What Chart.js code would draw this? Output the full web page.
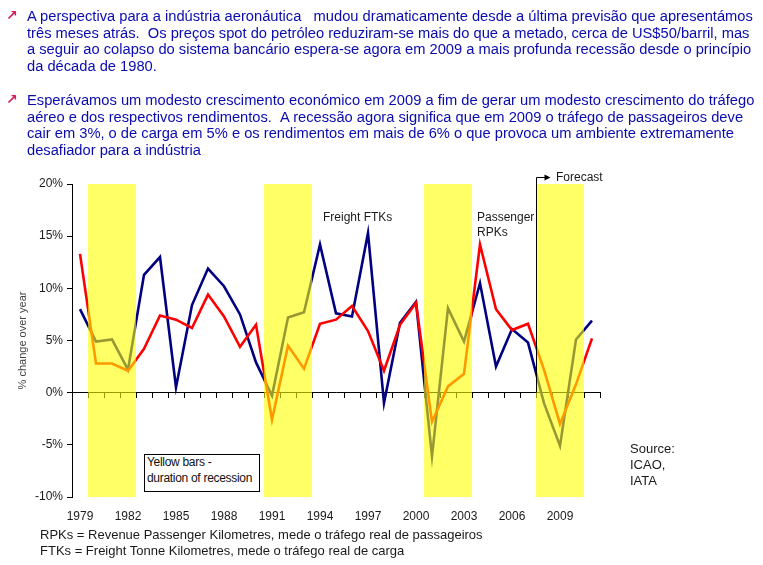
<!DOCTYPE html>
<html>
<head>
<meta charset="utf-8">
<script src="https://cdn.jsdelivr.net/npm/chart.js@4"></script>
<style>
  html, body { margin: 0; padding: 0; background: #fff; }
  #wrap { position: relative; width: 763px; height: 565px; overflow: hidden; font-family: "Liberation Sans", Arial, sans-serif; }
  #c { position: absolute; left: 0; top: 0; }
  .t { position: absolute; white-space: nowrap; color: #1a1a1a; font-size: 12px; line-height: 12px; }
  .para { position: absolute; left: 27px; color: #0a0ab0; font-size: 14.7px; line-height: 16.5px; white-space: nowrap; }
  .bul { position: absolute; left: 6px; color: #d8185e; font-size: 14px; line-height: 14px; font-family: "DejaVu Sans", sans-serif; font-weight: bold; }
  #box { position: absolute; left: 144px; top: 454px; width: 116px; height: 38px; border: 1px solid #000; background: #fff; font-size: 12px; letter-spacing: -0.3px; line-height: 15.5px; color: #111; padding: 0 0 0 2px; box-sizing: border-box; white-space: nowrap; }
</style>
</head>
<body>
<div id="wrap">
  <canvas id="c" width="763" height="565"></canvas>

  <div class="bul" style="top:8px;">↗</div>
  <div class="para" style="top:8px;">A perspectiva para a indústria aeronáutica &nbsp; mudou dramaticamente desde a última previsão que apresentámos<br>três meses atrás. &nbsp;Os preços spot do petróleo reduziram-se mais do que a metado, cerca de US$50/barril, mas<br>a seguir ao colapso do sistema bancário espera-se agora em 2009 a mais profunda recessão desde o princípio<br>da década de 1980.</div>

  <div class="bul" style="top:92px;">↗</div>
  <div class="para" style="top:92px;">Esperávamos um modesto crescimento económico em 2009 a fim de gerar um modesto crescimento do tráfego<br>aéreo e dos respectivos rendimentos. &nbsp;A recessão agora significa que em 2009 o tráfego de passageiros deve<br>cair em 3%, o de carga em 5% e os rendimentos em mais de 6% o que provoca um ambiente extremamente<br>desafiador para a indústria</div>

  <div class="t" style="left:323px; top:211px;">Freight FTKs</div>
  <div class="t" style="left:477px; top:210px; line-height:15px;">Passenger<br>RPKs</div>
  <div class="t" style="left:556px; top:171px;">Forecast</div>

  <div id="box">Yellow bars -<br>duration of recession</div>

  <div class="t" style="left:630px; top:441px; font-size:13px; line-height:16px;">Source:<br>ICAO,<br>IATA</div>

  <div class="t" style="left:40px; top:527px; font-size:13px; line-height:15.5px;">RPKs = Revenue Passenger Kilometres, mede o tráfego real de passageiros<br>FTKs = Freight Tonne Kilometres, mede o tráfego real de carga</div>
</div>

<script>
// ---- data ----
const years = ['1979','1980','1981','1982','1983','1984','1985','1986','1987','1988','1989',
               '1990','1991','1992','1993','1994','1995','1996','1997','1998','1999',
               '2000','2001','2002','2003','2004','2005','2006','2007','2008','2009','2010','2011'];
const passengerRPKs = [13.3, 2.8, 2.8, 2.1, 4.2, 7.4, 7.0, 6.2, 9.4, 7.3, 4.4,
                       6.5, -2.6, 4.5, 2.3, 6.6, 7.0, 8.3, 5.9, 2.1, 6.5,
                       8.6, -2.8, 0.6, 1.8, 14.2, 8.0, 6.0, 6.6, 2.2, -3.0, 0.8, 5.2];
const freightFTKs = [8.0, 4.9, 5.1, 2.2, 11.3, 13.0, 0.5, 8.4, 11.9, 10.2, 7.5,
                     2.9, -0.3, 7.2, 7.7, 14.2, 7.6, 7.3, 15.3, -1.0, 6.7,
                     8.7, -6.1, 8.1, 4.9, 10.5, 2.5, 6.1, 4.8, -1.0, -5.1, 5.1, 6.9];
const recessionYears = ['1980','1981','1982','1991','1992','1993','2001','2002','2003','2008','2009','2010'];
const firstForecastYear = '2008';
const yTicks = [-10, -5, 0, 5, 10, 15, 20];
const yMin = -10, yMax = 20;
const xLabelEvery = 3;

const recessionBars = years.map(y => recessionYears.includes(y) ? [yMin, yMax] : null);

const forecastPlugin = {
  id: 'forecast',
  afterDatasetsDraw(chart) {
    const xs = chart.scales.x, ys = chart.scales.y;
    const i = years.indexOf(firstForecastYear);
    const x = Math.round((xs.getPixelForValue(i - 1) + xs.getPixelForValue(i)) / 2) + 0.5;
    const yBottom = ys.getPixelForValue(0);
    const yTop = chart.chartArea.top - 7;
    const ctx = chart.ctx;
    ctx.save();
    ctx.strokeStyle = '#000';
    ctx.lineWidth = 1;
    ctx.beginPath();
    ctx.moveTo(x, yBottom);
    ctx.lineTo(x, yTop + 0.5);
    ctx.lineTo(x + 10, yTop + 0.5);
    ctx.stroke();
    ctx.fillStyle = '#000';
    ctx.beginPath();
    ctx.moveTo(x + 14, yTop + 0.5);
    ctx.lineTo(x + 8, yTop - 2.5);
    ctx.lineTo(x + 8, yTop + 3.5);
    ctx.closePath();
    ctx.fill();
    ctx.restore();
  }
};

new Chart(document.getElementById('c'), {
  type: 'line',
  data: {
    labels: years,
    datasets: [
      {
        type: 'bar',
        label: 'Recession',
        data: recessionBars,
        xAxisID: 'x',
        backgroundColor: 'rgba(255,255,0,0.6)',
        borderWidth: 0,
        inflateAmount: 0,
        barPercentage: 1,
        categoryPercentage: 1,
        order: 0
      },
      {
        label: 'Freight FTKs',
        data: freightFTKs,
        xAxisID: 'x',
        borderColor: '#000080',
        borderWidth: 2.6,
        pointRadius: 0,
        tension: 0,
        fill: false,
        order: 2
      },
      {
        label: 'Passenger RPKs',
        data: passengerRPKs,
        xAxisID: 'x',
        borderColor: '#ff0000',
        borderWidth: 2.6,
        pointRadius: 0,
        tension: 0,
        fill: false,
        order: 1
      }
    ]
  },
  options: {
    responsive: false,
    animation: false,
    devicePixelRatio: 1,
    layout: { padding: { left: 0, right: 163, top: 184, bottom: 0 } },
    plugins: { legend: { display: false }, tooltip: { enabled: false } },
    scales: {
      x: {
        type: 'category',
        position: 'bottom',
        offset: true,
        grid: { display: false, drawTicks: false },
        border: { display: false },
        ticks: {
          autoSkip: false,
          maxRotation: 0,
          padding: 12,
          color: '#1a1a1a',
          font: { family: '"Liberation Sans", Arial, sans-serif', size: 12 },
          callback: (v, i) => (i % xLabelEvery === 0 ? years[i] : '')
        },
        afterFit: s => { s.height = 68; }
      },
      x0: {
        type: 'category',
        position: { y: 0 },
        offset: true,
        grid: { offset: true, drawOnChartArea: false, drawTicks: true, tickLength: 5, color: '#000' },
        border: { display: true, color: '#000', width: 1 },
        ticks: { display: false, autoSkip: false }
      },
      y: {
        min: yMin,
        max: yMax,
        afterBuildTicks: s => { s.ticks = yTicks.map(v => ({ value: v })); },
        grid: { drawOnChartArea: false, drawTicks: true, tickLength: 5, color: '#000' },
        border: { display: true, color: '#000', width: 1 },
        ticks: {
          padding: 4,
          color: '#1a1a1a',
          font: { family: '"Liberation Sans", Arial, sans-serif', size: 12 },
          callback: v => v + '%'
        },
        title: {
          display: true,
          text: '% change over year',
          color: '#444',
          font: { family: '"Liberation Sans", Arial, sans-serif', size: 11 },
          padding: { top: 16, bottom: 0 }
        },
        afterFit: s => { s.width = 72; }
      }
    }
  },
  plugins: [forecastPlugin]
});
</script>
</body>
</html>
